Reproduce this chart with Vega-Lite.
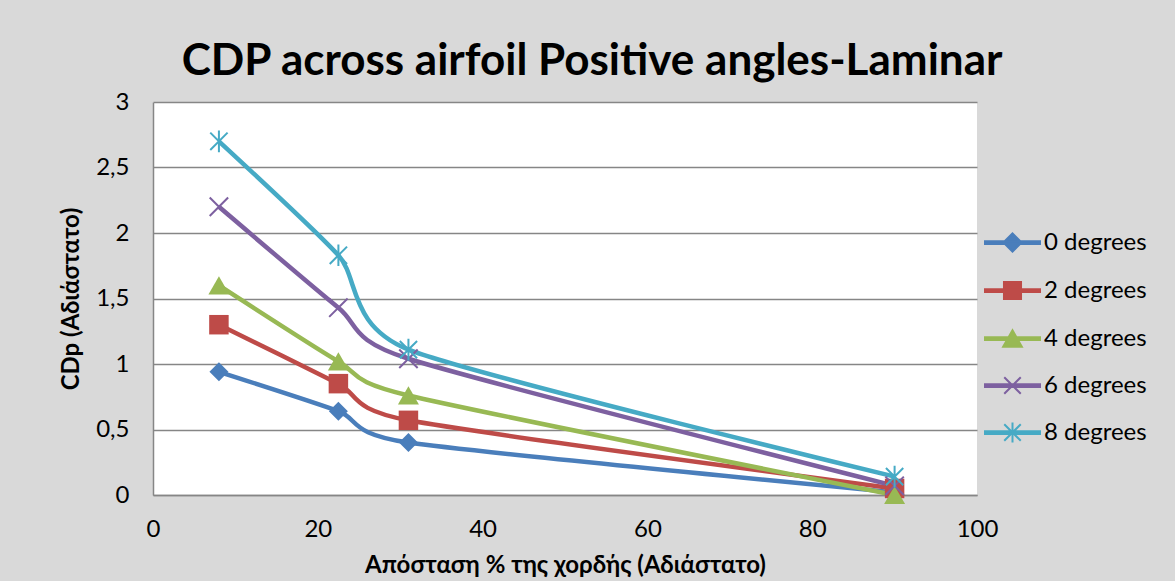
{
  "$schema": "https://vega.github.io/schema/vega-lite/v6.json",
  "autosize": "none",
  "width": 824,
  "height": 393,
  "padding": {"left": 153, "top": 102, "right": 198, "bottom": 86},
  "background": "#d9d9d9",
  "config": {
    "font": "Lato",
    "view": {"fill": "white", "stroke": null}
  },
  "title": {
    "text": "CDP across airfoil Positive angles-Laminar",
    "font": "Lato",
    "fontSize": 44,
    "fontWeight": "bold",
    "color": "#000000",
    "anchor": "middle",
    "frame": "group",
    "dx": 27,
    "offset": 6
  },
  "data": {
    "values": [
      {"x": 8, "cdp": 0.94, "series": "0 degrees"},
      {"x": 22.5, "cdp": 0.64, "series": "0 degrees"},
      {"x": 31, "cdp": 0.40, "series": "0 degrees"},
      {"x": 90, "cdp": 0.02, "series": "0 degrees"},
      {"x": 8, "cdp": 1.30, "series": "2 degrees"},
      {"x": 22.5, "cdp": 0.85, "series": "2 degrees"},
      {"x": 31, "cdp": 0.57, "series": "2 degrees"},
      {"x": 90, "cdp": 0.05, "series": "2 degrees"},
      {"x": 8, "cdp": 1.60, "series": "4 degrees"},
      {"x": 22.5, "cdp": 1.02, "series": "4 degrees"},
      {"x": 31, "cdp": 0.76, "series": "4 degrees"},
      {"x": 90, "cdp": 0.0, "series": "4 degrees"},
      {"x": 8, "cdp": 2.20, "series": "6 degrees"},
      {"x": 22.5, "cdp": 1.43, "series": "6 degrees"},
      {"x": 31, "cdp": 1.04, "series": "6 degrees"},
      {"x": 90, "cdp": 0.07, "series": "6 degrees"},
      {"x": 8, "cdp": 2.70, "series": "8 degrees"},
      {"x": 22.5, "cdp": 1.83, "series": "8 degrees"},
      {"x": 31, "cdp": 1.11, "series": "8 degrees"},
      {"x": 90, "cdp": 0.14, "series": "8 degrees"}
    ]
  },
  "encoding": {
    "x": {
      "field": "x",
      "type": "quantitative",
      "scale": {"domain": [0, 100], "nice": false, "zero": false},
      "axis": {
        "title": "Απόσταση % της χορδής (Αδιάστατο)",
        "values": [0, 20, 40, 60, 80, 100],
        "grid": false,
        "ticks": false,
        "labelFlush": false,
        "domainColor": "#868686",
        "domainWidth": 1.5,
        "labelFontSize": 24,
        "labelColor": "#000000",
        "labelPadding": 22,
        "labelFont": "Lato",
        "titleFont": "Lato",
        "titleFontSize": 24,
        "titleFontWeight": "bold",
        "titleColor": "#000000",
        "titlePadding": 12
      }
    },
    "y": {
      "field": "cdp",
      "type": "quantitative",
      "scale": {"domain": [0, 3], "nice": false},
      "axis": {
        "title": "CDp (Αδιάστατο)",
        "values": [0, 0.5, 1, 1.5, 2, 2.5, 3],
        "labelExpr": "replace(format(datum.value, '~g'), '.', ',')",
        "grid": true,
        "gridColor": "#868686",
        "gridWidth": 1.5,
        "ticks": false,
        "labelFlush": false,
        "domainColor": "#868686",
        "domainWidth": 1.5,
        "labelFontSize": 24,
        "labelColor": "#000000",
        "labelPadding": 24,
        "labelFont": "Lato",
        "titleFont": "Lato",
        "titleFontSize": 24,
        "titleFontWeight": "bold",
        "titleColor": "#000000",
        "titlePadding": 12
      }
    },
    "color": {
      "field": "series",
      "type": "nominal",
      "scale": {
        "domain": ["0 degrees", "2 degrees", "4 degrees", "6 degrees", "8 degrees"],
        "range": ["#4a7ebb", "#be4b48", "#98b954", "#7d60a0", "#46aac5"]
      },
      "legend": {
        "title": null,
        "orient": "none",
        "legendX": 831,
        "legendY": 112,
        "padding": 0,
        "symbolSize": 3025,
        "labelOffset": 3,
        "labelFontSize": 24,
        "labelFont": "Lato",
        "labelColor": "#000000",
        "rowPadding": 6,
        "symbolOpacity": 1,
        "encode": {
          "symbols": {
            "update": {
              "shape": {"signal": "datum.value === '0 degrees' ? 'M-1,-0.05H1V0.05H-1Z M-0.33,0L0,-0.33L0.33,0L0,0.33Z' : datum.value === '2 degrees' ? 'M-1,-0.05H1V0.05H-1Z M-0.31,-0.31H0.31V0.31H-0.31Z' : datum.value === '4 degrees' ? 'M-1,-0.05H1V0.05H-1Z M-0.34,0.3L0,-0.3L0.34,0.3Z' : datum.value === '6 degrees' ? 'M-1,-0.05H1V0.05H-1Z M-0.3,-0.3L0.3,0.3M-0.3,0.3L0.3,-0.3' : 'M-1,-0.05H1V0.05H-1Z M-0.3,-0.3L0.3,0.3M-0.3,0.3L0.3,-0.3M0,-0.36L0,0.36'"},
              "size": {"value": 3025},
              "strokeWidth": {"value": 2},
              "opacity": {"value": 1},
              "fillOpacity": {"value": 1},
              "strokeOpacity": {"value": 1}
            }
          }
        }
      }
    }
  },
  "layer": [
    {
      "mark": {"type": "line", "interpolate": "cardinal", "tension": 0.35, "strokeWidth": 4.5},
      "encoding": {}
    },
    {
      "transform": [{"filter": "datum.series === '0 degrees'"}],
      "mark": {"type": "point", "shape": "diamond", "filled": true, "size": 361, "opacity": 1},
      "encoding": {}
    },
    {
      "transform": [{"filter": "datum.series === '2 degrees'"}],
      "mark": {"type": "point", "shape": "square", "filled": true, "size": 380, "opacity": 1},
      "encoding": {}
    },
    {
      "transform": [{"filter": "datum.series === '4 degrees'"}],
      "mark": {"type": "point", "shape": "triangle-up", "filled": true, "size": 440, "opacity": 1},
      "encoding": {}
    },
    {
      "transform": [{"filter": "datum.series === '6 degrees'"}],
      "mark": {"type": "point", "shape": "M-1,-1L1,1M-1,1L1,-1", "filled": false, "size": 340, "strokeWidth": 2, "opacity": 1},
      "encoding": {}
    },
    {
      "transform": [{"filter": "datum.series === '8 degrees'"}],
      "mark": {"type": "point", "shape": "M-1,-1L1,1M-1,1L1,-1M0,-1.25L0,1.25", "filled": false, "size": 300, "strokeWidth": 2, "opacity": 1},
      "encoding": {}
    }
  ]
}
